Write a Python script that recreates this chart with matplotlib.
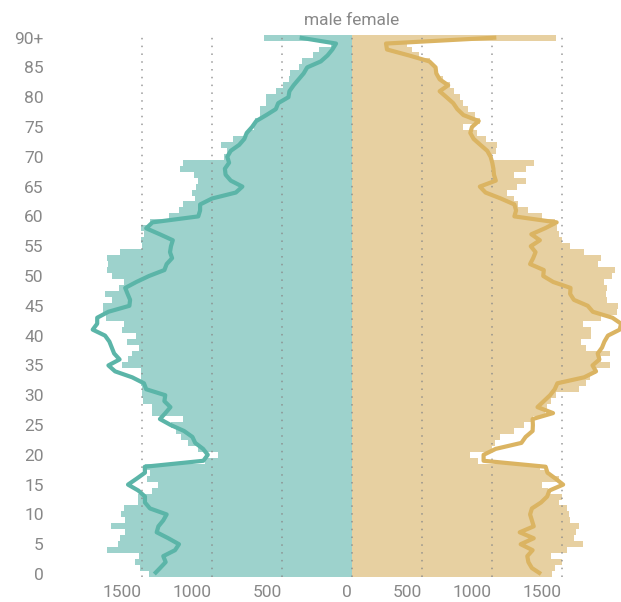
import matplotlib.pyplot as plt
import numpy as np

plt.rcParams['font.family'] = ['Roboto', 'DejaVu Sans']

AGES = list(range(91))
AGE_LABELS = ['90+' if a == 90 else str(a) for a in AGES]

MALE_BAR = [
    1450, 1515, 1550, 1520, 1750, 1674, 1657, 1621, 1721, 1621,
    1650, 1626, 1526, 1526, 1431, 1388, 1467, 1443, 1479, 1050,
    955, 1100, 1170, 1218, 1255, 1290, 1207, 1425, 1425, 1490,
    1500, 1497, 1510, 1510, 1510, 1643, 1602, 1570, 1522, 1607,
    1546, 1643, 1631, 1760, 1780, 1780, 1716, 1764, 1664, 1629,
    1716, 1750, 1744, 1750, 1657, 1500, 1505, 1485, 1505, 1440,
    1306, 1235, 1204, 1121, 1141, 1114, 1102, 1126, 1228, 1204,
    915, 890, 934, 849, 740, 700, 690, 660, 655, 612,
    612, 540, 490, 450, 442, 380, 354, 282, 233, 150,
    626,
]

MALE_LINE = [
    1412, 1371, 1331, 1348, 1264, 1236, 1312, 1395, 1383, 1348,
    1324, 1443, 1479, 1479, 1526, 1600, 1538, 1479, 1480, 1062,
    1030, 1064, 1120, 1140, 1200, 1295, 1372, 1333, 1297, 1340,
    1334, 1470, 1486, 1570, 1692, 1740, 1660, 1699, 1716, 1733,
    1764, 1852, 1820, 1820, 1740, 1590, 1585, 1603, 1620, 1540,
    1450, 1340, 1324, 1285, 1300, 1293, 1280, 1373, 1470, 1425,
    1098, 1085, 1085, 1000, 830, 783, 866, 903, 908, 878,
    891, 866, 806, 769, 752, 714, 684, 612, 544, 527,
    454, 447, 417, 381, 345, 320, 223, 175, 140, 114,
    374,
]

FEMALE_BAR = [
    1432, 1450, 1500, 1423, 1536, 1650, 1585, 1602, 1621, 1560,
    1548, 1536, 1475, 1500, 1400, 1354, 1476, 1400, 1340, 900,
    840, 1000, 1020, 1060, 1160, 1230, 1290, 1380, 1390, 1418,
    1460, 1621, 1670, 1700, 1740, 1840, 1780, 1840, 1670, 1633,
    1706, 1706, 1650, 1780, 1890, 1900, 1820, 1815, 1820, 1800,
    1860, 1880, 1760, 1780, 1660, 1560, 1500, 1475, 1463, 1451,
    1354, 1257, 1184, 1160, 1107, 1180, 1245, 1160, 1245, 1301,
    1002, 1027, 1039, 954, 893, 791, 917, 876, 825, 791,
    772, 728, 699, 650, 600, 585, 560, 480, 430, 390,
    1456,
]

FEMALE_LINE = [
    1350, 1285, 1260, 1252, 1290, 1205, 1298, 1198, 1298, 1285,
    1272, 1285, 1350, 1394, 1410, 1508, 1454, 1396, 1383, 940,
    940, 1027, 1210, 1240, 1290, 1292, 1290, 1436, 1325, 1370,
    1415, 1448, 1467, 1658, 1743, 1718, 1767, 1755, 1786, 1803,
    1828, 1912, 1922, 1860, 1720, 1684, 1585, 1558, 1561, 1437,
    1366, 1370, 1272, 1294, 1311, 1277, 1342, 1281, 1378, 1462,
    1160, 1172, 1160, 1063, 954, 913, 1027, 1014, 1010, 1002,
    990, 966, 917, 869, 845, 857, 905, 796, 752, 723,
    675, 626, 687, 626, 602, 597, 553, 408, 250, 243,
    1031,
]

X_TICKS = [-1500, -1000, -500, 0, 500, 1000, 1500]

MALE_BAR_COLOR = '#9dd2cc'
MALE_LINE_COLOR = '#5bb5a8'
FEMALE_BAR_COLOR = '#e7d0a1'
FEMALE_LINE_COLOR = '#dbb462'
TEXT_COLOR = '#888888'


def main():
    W, H = 621, 602
    fig = plt.figure(figsize=(W / 100, H / 100), dpi=100)

    # pixel layout of the plot area
    left_px, right_px = 52, 621
    top_px, bottom_px = 34.6, 577
    ax = fig.add_axes([left_px / W, 1 - bottom_px / H,
                       (right_px - left_px) / W, (bottom_px - top_px) / H])

    y = np.array(AGES)
    male_bar = -np.array(MALE_BAR)
    male_line = -np.array(MALE_LINE)

    ax.barh(y, male_bar, height=1.0, color=MALE_BAR_COLOR, linewidth=0, zorder=1)
    ax.barh(y, FEMALE_BAR, height=1.0, color=FEMALE_BAR_COLOR, linewidth=0, zorder=1)

    for xv in X_TICKS:
        ax.axvline(xv, color='#888888', alpha=0.85, linewidth=1.1,
                   linestyle=(0, (1, 4.1)), zorder=2)

    ax.plot(male_line, y, color=MALE_LINE_COLOR, linewidth=3.0,
            solid_joinstyle='round', solid_capstyle='butt', zorder=3, clip_on=False)
    ax.plot(FEMALE_LINE, y, color=FEMALE_LINE_COLOR, linewidth=3.0,
            solid_joinstyle='round', solid_capstyle='butt', zorder=3, clip_on=False)

    ax.set_xlim((left_px - 352) / 0.14, (right_px - 352) / 0.14)
    ax.set_ylim(-0.5, 90.5)

    ax.set_yticks([a for a in AGES if a % 5 == 0])
    ax.set_yticklabels([AGE_LABELS[a] for a in AGES if a % 5 == 0])
    ax.set_xticks(X_TICKS)
    ax.set_xticklabels([str(abs(v)) for v in X_TICKS])
    for lbl in ax.get_xticklabels():
        lbl.set_horizontalalignment('right')

    ax.tick_params(axis='both', length=0, colors=TEXT_COLOR, labelsize=12.5)
    ax.tick_params(axis='y', pad=6)
    ax.tick_params(axis='x', pad=6)

    for s in ax.spines.values():
        s.set_visible(False)

    fig.text(352 / W, 1 - 25 / H, 'male female', ha='center', va='baseline',
             color=TEXT_COLOR, fontsize=12.5)

    fig.savefig('out.png', dpi=100)
    plt.close(fig)


if __name__ == '__main__':
    main()
